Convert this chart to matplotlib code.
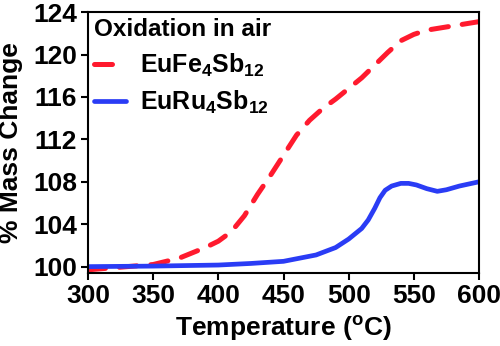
import numpy as np
import matplotlib.pyplot as plt

plt.rcParams['font.family'] = ['Liberation Sans', 'DejaVu Sans']
plt.rcParams['font.weight'] = 'bold'
plt.rcParams['mathtext.fontset'] = 'custom'
plt.rcParams['mathtext.rm'] = 'Liberation Sans:bold'
plt.rcParams['mathtext.default'] = 'rm'

# values
fe_temp = [300, 320, 350, 370, 390, 400, 410, 420, 430, 440, 450, 460, 470,
           480, 490, 500, 510, 520, 530, 540, 550, 560, 580, 600]
fe_mass = [99.7, 99.9, 100.2, 100.8, 101.8, 102.4, 103.3, 104.8, 106.8, 108.6,
           110.5, 112.4, 113.8, 114.9, 115.8, 116.8, 117.8, 119.0, 120.2, 121.3,
           121.9, 122.3, 122.7, 123.1]

ru_temp = [300, 350, 400, 425, 450, 475, 490, 500, 510, 515, 520, 524, 528,
           533, 540, 546, 552, 560, 568, 575, 585, 600]
ru_mass = [100.0, 100.05, 100.15, 100.3, 100.5, 101.1, 101.8, 102.6, 103.6,
           104.4, 105.5, 106.5, 107.2, 107.6, 107.85, 107.85, 107.7, 107.35,
           107.1, 107.25, 107.6, 108.0]

fig = plt.figure(figsize=(5.0, 3.46), dpi=100)
ax = fig.add_axes([0.176, 0.211, 0.782, 0.754])

ax.plot(fe_temp, fe_mass, color='#ff1a2e', lw=3.6, dashes=(3.5, 2.8),
        dash_capstyle='round', label='EuFe$_4$Sb$_{12}$')
ax.plot(ru_temp, ru_mass, color='#2a3cf5', lw=3.4, solid_capstyle='round',
        label='EuRu$_4$Sb$_{12}$')

ax.set_xlim(300, 600)
ax.set_ylim(99.4, 124)
ax.set_xticks(np.arange(300, 601, 50))
ax.set_yticks(np.arange(100, 125, 4))
ax.tick_params(labelsize=19, width=1.5, length=5, direction='out', pad=3)
for s in ax.spines.values():
    s.set_linewidth(1.5)

ax.set_xlabel('Temperature ($^{\\mathregular{o}}$C)', fontsize=19,
              fontweight='bold', labelpad=4)
ax.set_ylabel('% Mass Change', fontsize=19, fontweight='bold', labelpad=7)

leg = ax.legend(title='Oxidation in air', loc='upper left', frameon=False,
                fontsize=18, title_fontsize=17.5, handlelength=1.25,
                handletextpad=0.6, borderaxespad=0.0, borderpad=0.25,
                labelspacing=0.4, alignment='left')
leg.get_title().set_fontweight('bold')
# red key shows a single dash
leg.get_lines()[0].set_dashes((3.6, 20))

fig.savefig('out.png', dpi=100)
